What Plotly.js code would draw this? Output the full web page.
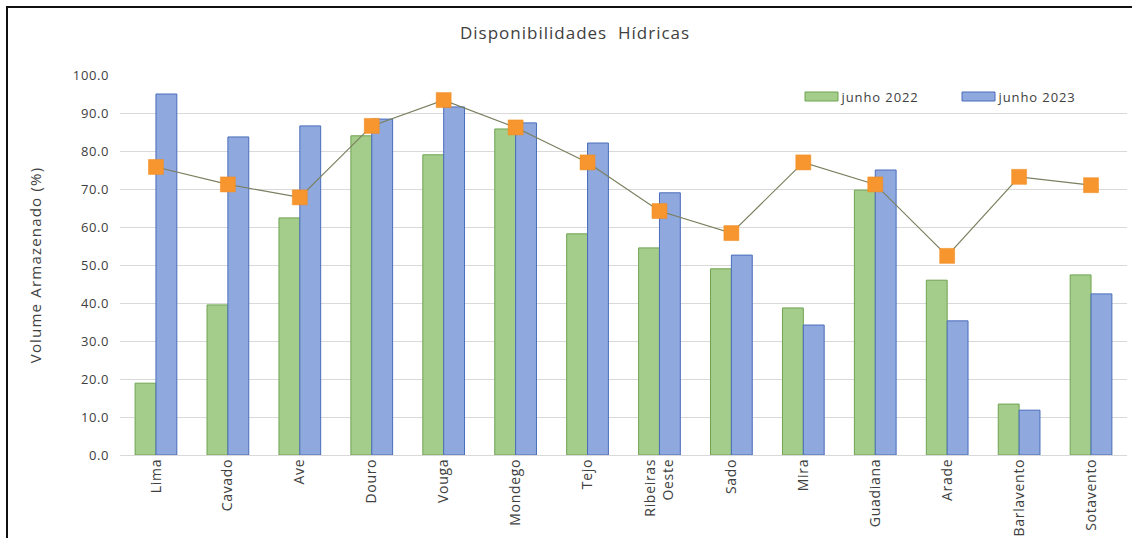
<!DOCTYPE html>
<html>
<head>
<meta charset="utf-8">
<script src="https://cdn.plot.ly/plotly-3.0.1.min.js"></script>
<style>
html,body{margin:0;padding:0;background:#fff;}
#wrap{position:relative;width:1132px;height:538px;overflow:hidden;}
#chart{position:absolute;left:0;top:0;width:1132px;height:538px;}
#frame{position:absolute;left:6px;top:6px;width:1140px;height:560px;border-left:2px solid #111;border-top:2px solid #111;pointer-events:none;}
#chart .xtick text{letter-spacing:0.7px;}
#chart .ytick text{letter-spacing:0.6px;}
#chart .gtitle{letter-spacing:1px;}
#chart .ytitle{letter-spacing:1.2px;}
#chart .annotation-text{letter-spacing:0.9px;}
</style>
</head>
<body>
<div id="wrap"><div id="chart"></div><div id="frame"></div></div>
<script>
const categories = ["Lima","Cavado","Ave","Douro","Vouga","Mondego","Tejo","Ribeiras<br>Oeste","Sado","Mira","Guadiana","Arade","Barlavento","Sotavento"];
const junho2022 = [18.9, 39.5, 62.4, 84.0, 79.0, 85.8, 58.2, 54.5, 49.0, 38.7, 69.7, 46.0, 13.4, 47.4];
const junho2023 = [95.0, 83.7, 86.6, 88.4, 91.6, 87.4, 82.1, 69.0, 52.6, 34.2, 75.0, 35.3, 11.8, 42.4];
const media = [75.8, 71.2, 67.8, 86.6, 93.4, 86.2, 77.0, 64.2, 58.4, 77.0, 71.2, 52.4, 73.2, 71.0];
const yTicks = [0,10,20,30,40,50,60,70,80,90,100];
const seriesNames = ["junho 2022", "junho 2023"];

const font = "Open Sans, Liberation Sans, sans-serif";
const greenFill = '#A4CD8C', greenLine = '#6FA350';
const blueFill = '#8FA8DE', blueLine = '#4A6DBA';

const traces = [
  {type:'bar', name:seriesNames[0], x:categories, y:junho2022, showlegend:false,
   marker:{color:greenFill, line:{color:greenLine, width:1}}},
  {type:'bar', name:seriesNames[1], x:categories, y:junho2023, showlegend:false,
   marker:{color:blueFill, line:{color:blueLine, width:1}}},
  {type:'scatter', mode:'lines+markers', name:'média', showlegend:false, x:categories, y:media,
   line:{color:'#7A7F5E', width:1.2},
   marker:{symbol:'square', size:15, color:'#F7962F', line:{color:'#F08A1C', width:0.5}}}
];

// plot area in pixels for the custom legend
const L = 120, R = 5, T = 75, B = 83, W = 1132, H = 538;
const pw = W - L - R, ph = H - T - B;
const px = x => (x - L) / pw;
const py = y => (H - B - y) / ph;

const legendItems = [
  {x0:805, x1:838, fill:greenFill, line:greenLine, tx:843, name:seriesNames[0]},
  {x0:962, x1:995, fill:blueFill, line:blueLine, tx:1000, name:seriesNames[1]}
];
const shapes = legendItems.map(it => ({type:'rect', xref:'paper', yref:'paper',
  x0:px(it.x0), x1:px(it.x1), y0:py(101), y1:py(92),
  fillcolor:it.fill, line:{color:it.line, width:1}}));
const annotations = legendItems.map(it => ({xref:'paper', yref:'paper', x:px(it.tx), y:py(97),
  xanchor:'left', yanchor:'middle', showarrow:false, text:it.name,
  font:{family:font, size:13, color:'#404040'}}));

const layout = {
  width:W, height:H,
  margin:{l:L, r:R, t:T, b:B},
  paper_bgcolor:'#fff', plot_bgcolor:'#fff',
  font:{family:font, size:12, color:'#404040'},
  title:{text:'Disponibilidades  Hídricas', xref:'container', x:0.508, y:0.939, yanchor:'middle', xanchor:'center',
         font:{family:font, size:17, color:'#404040'}},
  barmode:'group', bargap:0.42, bargroupgap:0,
  xaxis:{type:'category', range:[-0.5, categories.length - 0.5], autorange:false,
         tickangle:-90, showgrid:false, showline:false, zeroline:false, ticks:'', automargin:false,
         tickfont:{family:font, size:14, color:'#404040'}, fixedrange:true},
  yaxis:{range:[0,100], tickvals:yTicks, ticktext:yTicks.map(v=>v.toFixed(1)), automargin:false,
         showgrid:true, gridcolor:'#D9D9D9', gridwidth:1, zeroline:true, zerolinecolor:'#D9D9D9',
         showline:false, ticks:'', ticklabelstandoff:10,
         tickfont:{family:font, size:13, color:'#404040'},
         title:{text:'Volume Armazenado (%)', standoff:30, font:{family:font, size:15, color:'#404040'}}},
  shapes:shapes, annotations:annotations,
  showlegend:false
};
Plotly.newPlot('chart', traces, layout, {displayModeBar:false, staticPlot:true});
</script>
</body>
</html>
